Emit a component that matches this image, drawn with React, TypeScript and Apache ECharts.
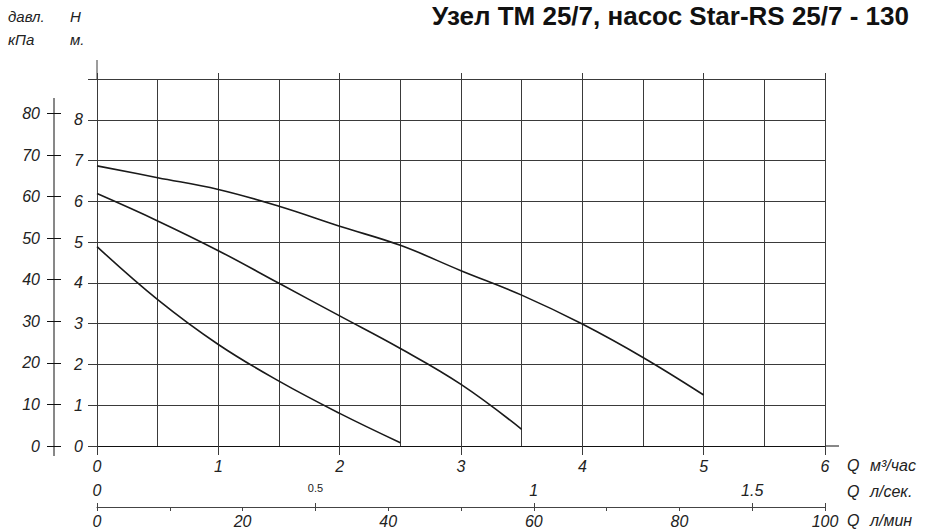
import React, { useEffect, useRef } from "react";
import * as echarts from "echarts";

// ---- data (Q in m³/h, H in m) ----
const curveTop: [number, number][] = [
  [0, 6.87], [0.5, 6.58], [1, 6.29], [1.5, 5.88], [2, 5.39], [2.5, 4.92],
  [3, 4.3], [3.5, 3.7], [4, 2.99], [4.5, 2.17], [5, 1.25],
];
const curveMid: [number, number][] = [
  [0, 6.19], [0.5, 5.52], [1, 4.79], [1.5, 3.99], [2, 3.19], [2.5, 2.39],
  [3, 1.51], [3.5, 0.41],
];
const curveLow: [number, number][] = [
  [0, 4.89], [0.5, 3.59], [1, 2.49], [1.5, 1.59], [2, 0.8], [2.5, 0.08],
];

const title = "Узел ТМ 25/7, насос Star-RS 25/7 - 130";
const unitLabels = ["м³/час", "л/сек.", "л/мин"];
const lpsTicks = [0, 0.5, 1, 1.5];
const lpmLabels = [0, 20, 40, 60, 80, 100];

const Q_MAX = 6; // m³/h
const H_MAX = 9; // m
const KPA_PER_M = 9.81;
const KPA_MAX = 80;

// layout
const W = 925;
const HGT = 530;
const L = 97;
const R = 825;
const T = 79;
const B = 446;

const FONT = "'Liberation Sans', Arial, sans-serif";
const GRID_C = "#3a3a3a";
const TXT_C = "#222";

export default function App() {
  const ref = useRef<HTMLDivElement>(null);
  useEffect(() => {
    if (!ref.current) return;
    const chart = echarts.init(ref.current, undefined, { renderer: "svg" });
    const pxPerM = (B - T) / H_MAX;
    const kpaTop = B - (KPA_MAX / KPA_PER_M) * pxPerM;

    const lab = { fontFamily: FONT, fontStyle: "italic", fontSize: 16, color: TXT_C };

    const lineSeries = (d: [number, number][]) => ({
      type: "line",
      xAxisIndex: 0,
      yAxisIndex: 0,
      data: d,
      smooth: 0.4,
      showSymbol: false,
      symbol: "none",
      lineStyle: { color: "#1a1a1a", width: 1.6 },
      silent: true,
    });

    const unitText = (i: number, y: number) => [
      { type: "text", x: 847, y, style: { text: "Q", ...lab, fill: TXT_C, verticalAlign: "middle" } },
      { type: "text", x: 870, y, style: { text: unitLabels[i], ...lab, fill: TXT_C, verticalAlign: "middle" } },
    ];
    const smallText = (text: string, x: number, y: number) => ({
      type: "text", x, y,
      style: { text, fontFamily: FONT, fontStyle: "italic", fontSize: 15, fill: TXT_C, verticalAlign: "middle" },
    });

    chart.setOption({
      animation: false,
      grid: [
        { left: L, right: W - R, top: T, bottom: HGT - B, containLabel: false },
        { left: 54, width: 10, top: kpaTop, bottom: HGT - B, containLabel: false },
      ],
      xAxis: [
        {
          type: "value", gridIndex: 0, min: 0, max: Q_MAX, interval: 0.5, position: "bottom",
          axisLine: { show: true, lineStyle: { color: "#111", width: 1 } },
          axisTick: { show: false }, axisLabel: { show: false },
          splitLine: { show: true, lineStyle: { color: GRID_C, width: 1 } },
        },
        {
          type: "value", gridIndex: 0, min: 0, max: Q_MAX, interval: 1, position: "bottom",
          axisLine: { show: false },
          axisTick: { show: true, length: 9, lineStyle: { color: GRID_C } },
          axisLabel: { show: true, margin: 12, ...lab },
          splitLine: { show: false },
        },
        {
          type: "value", gridIndex: 0, min: 0, max: Q_MAX, interval: 1, position: "top",
          axisLine: { show: false },
          axisTick: { show: true, length: 6, lineStyle: { color: GRID_C } },
          axisLabel: { show: false }, splitLine: { show: false },
        },
        {
          type: "value", gridIndex: 0, min: 0, max: Q_MAX / 3.6, interval: 0.5, position: "bottom",
          axisLine: { show: false }, axisTick: { show: false }, splitLine: { show: false },
          axisLabel: {
            show: true, margin: 36, ...lab,
            formatter: (v: number) => {
              const hit = lpsTicks.find((t) => Math.abs(t - v) < 1e-6);
              if (hit === undefined) return "";
              return hit === 0.5 ? "{s|0.5}" : String(hit);
            },
            rich: { s: { fontFamily: FONT, fontStyle: "normal", fontSize: 11, color: TXT_C, padding: [0, 0, 6, 0] } },
          },
        },
        {
          type: "value", gridIndex: 0, min: 0, max: 100, interval: 10, position: "bottom", offset: 61,
          axisLine: { show: true, lineStyle: { color: "#444", width: 1 } },
          axisTick: { show: true, length: 4, lineStyle: { color: "#444" } },
          axisLabel: {
            show: true, margin: 6, ...lab,
            formatter: (v: number) => (lpmLabels.includes(v) ? String(v) : ""),
          },
          splitLine: { show: false },
        },
        {
          type: "value", gridIndex: 0, min: 0, max: 100, interval: 30, position: "bottom", offset: 61,
          axisLine: { show: false },
          axisTick: { show: true, inside: true, length: 4, lineStyle: { color: "#444" } },
          axisLabel: { show: false }, splitLine: { show: false },
        },
        {
          type: "value", gridIndex: 1, min: 0, max: 1, show: false,
        },
      ],
      yAxis: [
        {
          type: "value", gridIndex: 0, min: 0, max: H_MAX, interval: 1, position: "left",
          axisLine: { show: false },
          axisTick: { show: true, length: 9, lineStyle: { color: GRID_C } },
          axisLabel: { show: true, margin: 14, ...lab, formatter: (v: number) => (v === H_MAX ? "" : String(v)) },
          splitLine: { show: true, lineStyle: { color: GRID_C, width: 1 } },
        },
        {
          type: "value", gridIndex: 1, min: 0, max: KPA_MAX, interval: 10, position: "left",
          axisLine: { show: false },
          axisTick: { show: true, length: 7, lineStyle: { color: "#111" } },
          axisLabel: { show: true, margin: 14, ...lab },
          splitLine: { show: false },
        },
        {
          type: "value", gridIndex: 1, min: 0, max: KPA_MAX, interval: 10, position: "left",
          axisLine: { show: false },
          axisTick: { show: true, inside: true, length: 7, lineStyle: { color: "#111" } },
          axisLabel: { show: false }, splitLine: { show: false },
        },
      ],
      series: [lineSeries(curveTop), lineSeries(curveMid), lineSeries(curveLow)],
      graphic: [
        { type: "line", shape: { x1: L, y1: 60, x2: L, y2: T }, style: { stroke: GRID_C, lineWidth: 1 } },
        { type: "line", shape: { x1: 54, y1: 98, x2: 54, y2: 456 }, style: { stroke: "#111", lineWidth: 1 } },
        { type: "line", shape: { x1: R, y1: B, x2: 839, y2: B }, style: { stroke: "#111", lineWidth: 1 } },
        {
          type: "text", x: 432, y: 16,
          style: {
            text: title, fill: "#111", verticalAlign: "middle",
            fontFamily: "'Liberation Sans Narrow', 'Liberation Sans', sans-serif",
            fontWeight: "bold", fontSize: 26,
          },
        },
        smallText("давл.", 8, 16),
        smallText("H", 70, 16),
        smallText("кПа", 8, 39),
        smallText("м.", 70, 39),
        ...unitText(0, 465),
        ...unitText(1, 491),
        ...unitText(2, 520),
      ],
    });
    return () => chart.dispose();
  }, []);
  return (
    <div
      ref={ref}
      style={{ position: "absolute", left: 0, top: 0, width: W, height: HGT, background: "#fff" }}
    />
  );
}
